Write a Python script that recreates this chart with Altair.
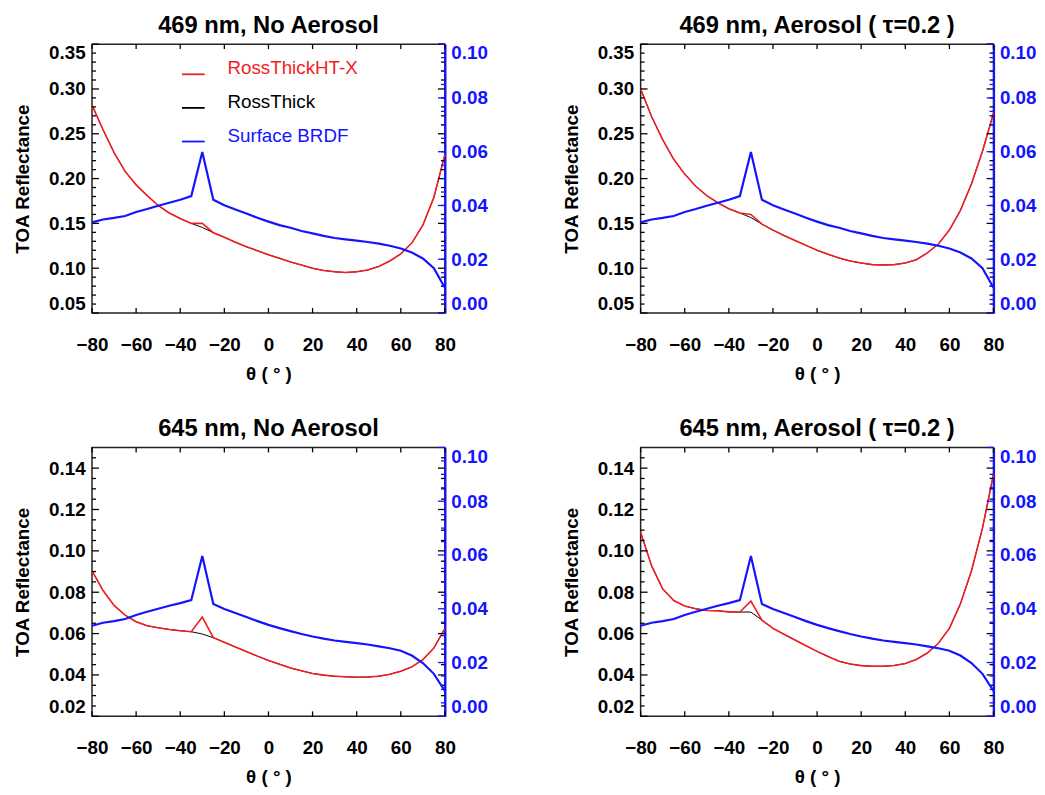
import altair as alt
import pandas as pd

# ---------------- data ----------------
theta = list(range(-80, 81, 5))

# 469 nm, no aerosol
rht_469_noaer = [0.282, 0.2545, 0.229, 0.208, 0.193, 0.181, 0.170, 0.1616, 0.1554, 0.150,
                 0.150, 0.1396, 0.1345, 0.129, 0.124, 0.1195, 0.115, 0.111, 0.107, 0.1035,
                 0.100, 0.0975, 0.096, 0.0952, 0.096, 0.098, 0.102, 0.108, 0.116, 0.128,
                 0.148, 0.179, 0.227]
rt_469_noaer = [0.282, 0.2545, 0.229, 0.208, 0.193, 0.181, 0.170, 0.1616, 0.1554, 0.150,
                0.1455, 0.1396, 0.1345, 0.129, 0.124, 0.1195, 0.115, 0.111, 0.107, 0.1035,
                0.100, 0.0975, 0.096, 0.0952, 0.096, 0.098, 0.102, 0.108, 0.116, 0.128,
                0.148, 0.179, 0.227]
# 469 nm, aerosol tau=0.2
rht_469_aer = [0.300, 0.269, 0.2435, 0.2215, 0.205, 0.1914, 0.181, 0.173, 0.1664, 0.1616,
               0.160, 0.1492, 0.1425, 0.1365, 0.131, 0.1255, 0.120, 0.1155, 0.1113, 0.108,
               0.1058, 0.104, 0.1036, 0.104, 0.1058, 0.1095, 0.117, 0.127, 0.1425, 0.1645,
               0.194, 0.2306, 0.273]
rt_469_aer = [0.300, 0.269, 0.2435, 0.2215, 0.205, 0.1914, 0.181, 0.173, 0.1664, 0.1616,
              0.1565, 0.1492, 0.1425, 0.1365, 0.131, 0.1255, 0.120, 0.1155, 0.1113, 0.108,
              0.1058, 0.104, 0.1036, 0.104, 0.1058, 0.1095, 0.117, 0.127, 0.1425, 0.1645,
              0.194, 0.2306, 0.273]
# 645 nm, no aerosol
rht_645_noaer = [0.0903, 0.0808, 0.0736, 0.0689, 0.0657, 0.0638, 0.0628, 0.0620, 0.0614, 0.0609,
                 0.0680, 0.0580, 0.0558, 0.0535, 0.0513, 0.0491, 0.0470, 0.0452, 0.0434, 0.0420,
                 0.0407, 0.0399, 0.0394, 0.0391, 0.0389, 0.0390, 0.0394, 0.0403, 0.0418, 0.0439,
                 0.0474, 0.0530, 0.0625]
rt_645_noaer = [0.0903, 0.0808, 0.0736, 0.0689, 0.0657, 0.0638, 0.0628, 0.0620, 0.0614, 0.0609,
                0.0598, 0.0580, 0.0558, 0.0535, 0.0513, 0.0491, 0.0470, 0.0452, 0.0434, 0.0420,
                0.0407, 0.0399, 0.0394, 0.0391, 0.0389, 0.0390, 0.0394, 0.0403, 0.0418, 0.0439,
                0.0474, 0.0530, 0.0625]
# 645 nm, aerosol tau=0.2
rht_645_aer = [0.109, 0.0927, 0.0816, 0.0760, 0.0733, 0.0720, 0.0712, 0.0710, 0.0705, 0.0704,
               0.0757, 0.0665, 0.0625, 0.0597, 0.0569, 0.0541, 0.0514, 0.0489, 0.0466, 0.0453,
               0.0445, 0.0442, 0.0442, 0.0446, 0.0455, 0.0475, 0.0506, 0.0553, 0.0625, 0.0744,
               0.0903, 0.1110, 0.1370]
rt_645_aer = [0.109, 0.0927, 0.0816, 0.0760, 0.0733, 0.0720, 0.0712, 0.0710, 0.0705, 0.0704,
              0.0704, 0.0665, 0.0625, 0.0597, 0.0569, 0.0541, 0.0514, 0.0489, 0.0466, 0.0453,
              0.0445, 0.0442, 0.0442, 0.0446, 0.0455, 0.0475, 0.0506, 0.0553, 0.0625, 0.0744,
              0.0903, 0.1110, 0.1370]
# surface BRDF (right axis)
brdf_469 = [0.0337, 0.0348, 0.0354, 0.0361, 0.0376, 0.0387, 0.0399, 0.0410, 0.0421, 0.0435,
            0.0599, 0.0421, 0.0401, 0.0385, 0.0370, 0.0354, 0.0340, 0.0327, 0.0317, 0.0305,
            0.0296, 0.0287, 0.0279, 0.0274, 0.0269, 0.0264, 0.0258, 0.0250, 0.0240, 0.0225,
            0.0203, 0.0167, 0.0094]
brdf_645 = [0.0337, 0.0348, 0.0354, 0.0362, 0.0377, 0.0389, 0.0400, 0.0411, 0.0421, 0.0432,
            0.0596, 0.0418, 0.0399, 0.0384, 0.0369, 0.0354, 0.0340, 0.0328, 0.0317, 0.0306,
            0.0297, 0.0289, 0.0282, 0.0277, 0.0272, 0.0267, 0.0260, 0.0253, 0.0244, 0.0226,
            0.0198, 0.0158, 0.0094]

series_names = ["RossThickHT-X", "RossThick", "Surface BRDF"]
series_colors = ["#f01e24", "#000000", "#1414ff"]
series_widths = [1.6, 1.0]

titles = ["469 nm, No Aerosol", "469 nm, Aerosol ( τ=0.2 )",
          "645 nm, No Aerosol", "645 nm, Aerosol ( τ=0.2 )"]

x_major = [-80, -60, -40, -20, 0, 20, 40, 60, 80]

toa_domain_469 = [0.05, 0.35]
toa_major_469 = [0.05, 0.10, 0.15, 0.20, 0.25, 0.30, 0.35]
toa_minor_469 = [0.06, 0.07, 0.08, 0.09, 0.11, 0.12, 0.13, 0.14, 0.16, 0.17, 0.18, 0.19,
                 0.21, 0.22, 0.23, 0.24, 0.26, 0.27, 0.28, 0.29, 0.31, 0.32, 0.33, 0.34]
toa_domain_645 = [0.02, 0.15]
toa_major_645 = [0.02, 0.04, 0.06, 0.08, 0.10, 0.12, 0.14]
toa_minor_645 = [0.025, 0.03, 0.035, 0.045, 0.05, 0.055, 0.065, 0.07, 0.075, 0.085, 0.09,
                 0.095, 0.105, 0.11, 0.115, 0.125, 0.13, 0.135, 0.145]
brdf_domain = [0.0, 0.10]
brdf_major = [0.0, 0.02, 0.04, 0.06, 0.08, 0.10]
brdf_minor = [0.005, 0.01, 0.015, 0.025, 0.03, 0.035, 0.045, 0.05, 0.055, 0.065, 0.07,
              0.075, 0.085, 0.09, 0.095]

panels = [
    (rht_469_noaer, rt_469_noaer, brdf_469, toa_domain_469, toa_major_469, toa_minor_469),
    (rht_469_aer, rt_469_aer, brdf_469, toa_domain_469, toa_major_469, toa_minor_469),
    (rht_645_noaer, rt_645_noaer, brdf_645, toa_domain_645, toa_major_645, toa_minor_645),
    (rht_645_aer, rt_645_aer, brdf_645, toa_domain_645, toa_major_645, toa_minor_645),
]

FONT = "Liberation Sans"
W, H = 357, 272
BLUE = series_colors[2]
MAJ, MIN, XT = 7, 4, 5   # inward tick lengths

label_fill = ("datum.value === '%s' ? '%s' : datum.value === '%s' ? '%s' : '%s'"
              % (series_names[0], series_colors[0], series_names[1], series_colors[1],
                 series_colors[2]))


def y_ticks(values, scale, length, at_right, color="black"):
    """Inward-pointing tick marks along a vertical frame edge, placed by the y scale."""
    pos = W - length / 2 if at_right else length / 2
    return alt.Chart(pd.DataFrame({"v": values})).mark_tick(
        orient="horizontal", size=length, thickness=1.3, color=color, opacity=1
    ).encode(
        y=alt.Y("v:Q", scale=scale, axis=None),
        x=alt.value(pos),
    )


def x_ticks(values, scale, length, at_top):
    pos = length / 2 if at_top else H - length / 2
    return alt.Chart(pd.DataFrame({"t": values})).mark_tick(
        orient="vertical", size=length, thickness=1.3, color="black", opacity=1
    ).encode(
        x=alt.X("t:Q", scale=scale, axis=None),
        y=alt.value(pos),
    )


def make_panel(i):
    rht, rt, brdf, ydom, ymaj, ymin = panels[i]
    rows = []
    for t, v in zip(theta, rt):
        rows.append({"theta": t, "value": v, "series": series_names[1]})
    for t, v in zip(theta, rht):
        rows.append({"theta": t, "value": v, "series": series_names[0]})
    lr = pd.DataFrame(rows)
    bl = pd.DataFrame({"theta": theta, "value": brdf, "series": series_names[2]})

    if i == 0:
        legend = alt.Legend(
            orient="none", legendX=90, legendY=18, title=None, padding=0,
            symbolType="stroke", symbolSize=529, symbolStrokeWidth=1.8,
            labelFont=FONT, labelFontSize=19, labelOffset=22,
            labelBaseline="alphabetic", rowPadding=14, labelLimit=300,
            labelColor={"expr": label_fill},
        )
    else:
        legend = None
    color = alt.Color("series:N",
                      scale=alt.Scale(domain=series_names, range=series_colors),
                      legend=legend)

    xscale = alt.Scale(domain=[-80, 80], nice=False, zero=False)
    yscale = alt.Scale(domain=ydom, nice=False, zero=False)
    bscale = alt.Scale(domain=brdf_domain, nice=False, zero=False)

    x_bottom = alt.Axis(orient="bottom", values=x_major, ticks=False, domain=False, grid=False,
                        labelFont=FONT, labelFontSize=19, labelFontWeight="bold",
                        labelColor="black", labelPadding=23, labelOverlap=False,
                        labelFlush=False, labelBound=False, format="d",
                        title="θ ( ° )", titleFont=FONT, titleFontSize=19,
                        titleFontWeight="bold", titleColor="black", titlePadding=10)
    y_left = alt.Axis(orient="left", values=ymaj, ticks=False, domain=False, grid=False,
                      labelFont=FONT, labelFontSize=19, labelFontWeight="bold",
                      labelColor="black", labelPadding=7, labelFlush=True,
                      labelOverlap=False, format=".2f",
                      title="TOA Reflectance", titleFont=FONT, titleFontSize=19,
                      titleFontWeight="bold", titleColor="black", titlePadding=16)
    y_blue = alt.Axis(orient="right", values=brdf_major, ticks=False, domain=True,
                      domainColor=BLUE, domainWidth=2.2, grid=False,
                      labelFont=FONT, labelFontSize=19, labelFontWeight="bold",
                      labelColor=BLUE, labelPadding=6, labelFlush=True,
                      labelOverlap=False, format=".2f", title=None)

    lines = alt.Chart(lr).mark_line().encode(
        x=alt.X("theta:Q", scale=xscale, axis=x_bottom),
        y=alt.Y("value:Q", scale=yscale, axis=y_left),
        color=color,
        strokeWidth=alt.StrokeWidth("series:N", legend=None,
                                    scale=alt.Scale(domain=series_names[:2],
                                                    range=series_widths)),
    )
    blue = alt.Chart(bl).mark_line(strokeWidth=2.2).encode(
        x=alt.X("theta:Q", scale=xscale, axis=None),
        y=alt.Y("value:Q", scale=bscale, axis=y_blue),
        color=color,
    )
    ticks = [
        y_ticks(ymaj, yscale, MAJ, False), y_ticks(ymin, yscale, MIN, False),
        y_ticks(ymaj, yscale, MAJ, True), y_ticks(ymin, yscale, MIN, True),
        x_ticks(x_major, xscale, XT, False), x_ticks(x_major, xscale, XT, True),
        y_ticks(brdf_major, bscale, MAJ, True, BLUE), y_ticks(brdf_minor, bscale, MIN, True, BLUE),
    ]
    return (
        alt.layer(lines, *ticks, blue)
        .resolve_scale(y="independent")
        .resolve_axis(x="independent", y="independent")
        .properties(
            width=W, height=H,
            title=alt.TitleParams(titles[i], font=FONT, fontSize=24, fontWeight="bold",
                                  color="black", anchor="middle", baseline="alphabetic",
                                  offset=-13),
        )
    )


row1 = alt.hconcat(make_panel(0), make_panel(1), spacing=74)
row2 = alt.hconcat(make_panel(2), make_panel(3), spacing=74)
chart = (
    alt.vconcat(row1, row2, spacing=32)
    .resolve_scale(color="independent", strokeWidth="independent")
    .resolve_legend(color="independent", strokeWidth="independent")
    .properties(padding={"left": 5, "top": 0, "right": 0, "bottom": 0}, background="white")
    .configure_view(stroke="#222222", strokeWidth=1.5)
)

chart.save("out.html", embed_options={"renderer": "svg", "actions": False})
